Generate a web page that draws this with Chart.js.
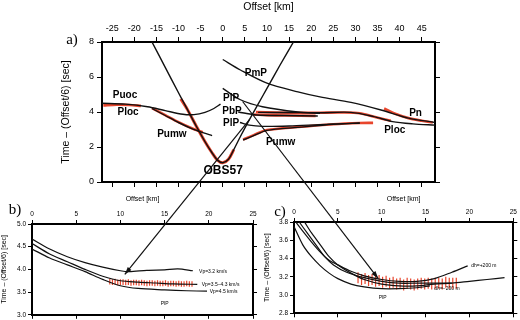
<!DOCTYPE html>
<html>
<head>
<meta charset="utf-8">
<script src="https://cdn.jsdelivr.net/npm/chart.js@4.4.0/dist/chart.umd.min.js"></script>
<style>
html, body { margin: 0; padding: 0; background: #fff; }
#wrap { position: relative; width: 520px; height: 320px; overflow: hidden; }
#wrap canvas { position: absolute; left: 0; top: 0; }
</style>
</head>
<body>
<div id="wrap">
  <canvas id="chartA" width="520" height="320"></canvas>
  <canvas id="chartB" width="520" height="320"></canvas>
  <canvas id="chartC" width="520" height="320"></canvas>
</div>
<script>
// --- panel a: reduced travel time branches (offset km, time - offset/6 s)
const aTicksX = [-25, -20, -15, -10, -5, 0, 5, 10, 15, 20, 25, 30, 35, 40, 45];
const aTicksY = [0, 2, 4, 6, 8];

const puocX = [-27.3, -22, -17, -13, -9, -6.5, -4, -2, -0.5];
const puocY = [4.5, 4.45, 4.3, 4.08, 3.87, 3.85, 3.98, 4.2, 4.45];
const pumwLeftX = [-16, -13, -10, -7, -4.5, -2.4];
const pumwLeftY = [4.2, 3.8, 3.4, 3.05, 2.82, 2.65];
const waterX = [-16, -13, -10, -8, -6, -4, -2.5, -1.2, 0, 1.3, 2.5, 4, 6, 8, 10, 13, 16];
const waterY = [8, 6.55, 5.1, 4.15, 3.2, 2.3, 1.7, 1.25, 1.1, 1.3, 1.85, 2.6, 3.55, 4.45, 5.35, 6.7, 8];
const pmpX = [0, 4, 10, 17, 22, 29, 36, 42, 48];
const pmpY = [7.0, 6.4, 5.65, 5.15, 4.86, 4.55, 4.1, 3.65, 3.4];
const plpUpX = [0, 4, 9, 17, 22];
const plpUpY = [5.35, 4.7, 4.3, 4.0, 3.92];
const pbpX = [3.5, 7.7, 14, 21.5];
const pbpY = [4.0, 3.83, 3.8, 3.77];
const plocRightX = [8, 15, 22, 29, 34, 38.4, 43, 48];
const plocRightY = [3.98, 3.97, 3.96, 3.98, 3.75, 3.45, 3.32, 3.25];
const plpLowX = [3.9, 6, 9, 15, 22, 31];
const plpLowY = [3.4, 3.25, 3.18, 3.2, 3.28, 3.37];
const pumwRightX = [4.6, 7, 10, 17, 25, 31];
const pumwRightY = [2.4, 2.65, 2.95, 3.12, 3.3, 3.37];

// picked arrivals (red)
const redPlocLeftX = [-27, -24, -21, -18.5];
const redPlocLeftY = [4.38, 4.42, 4.4, 4.35];
const redPumwLeftX = [-16, -13, -10, -7, -4.5];
const redPumwLeftY = [4.22, 3.82, 3.42, 3.07, 2.84];
const redWaterX = [-9.5, -8, -6, -4, -2.5, -1.2, 0, 1.3, 2.5];
const redWaterY = [4.75, 4.15, 3.2, 2.3, 1.7, 1.25, 1.1, 1.3, 1.85];
const redPbpX = [7, 10, 14, 21];
const redPbpY = [3.85, 3.82, 3.8, 3.78];
const redPlocRightX = [7.5, 12, 18, 22, 27, 31, 34, 38];
const redPlocRightY = [4.0, 3.97, 3.95, 3.96, 3.97, 3.93, 3.74, 3.5];
const redPumwRightX = [4.6, 7, 10, 17, 25, 31, 34];
const redPumwRightY = [2.42, 2.68, 2.97, 3.14, 3.3, 3.37, 3.38];
const redPnX = [36.5, 39, 42, 45, 47.5];
const redPnY = [4.2, 3.9, 3.65, 3.5, 3.4];

// --- panel b: PlP for three velocities
const bTicksX = [0, 5, 10, 15, 20, 25];
const bTicksY = [3.0, 3.5, 4.0, 4.5, 5.0];
const bVp32X = [0, 2, 4, 6, 8, 10, 11, 13, 15, 16.5, 18.2];
const bVp32Y = [4.67, 4.45, 4.28, 4.15, 4.05, 3.97, 3.95, 3.98, 3.99, 4.01, 3.97];
const bVp35X = [0, 2, 4, 6, 8, 10, 12, 14, 16, 18.7];
const bVp35Y = [4.57, 4.34, 4.17, 4.0, 3.85, 3.75, 3.72, 3.7, 3.68, 3.67];
const bVp45X = [0, 2, 4, 6, 8, 10, 12, 15, 17.5, 19.8];
const bVp45Y = [4.45, 4.25, 4.1, 3.95, 3.78, 3.64, 3.58, 3.55, 3.53, 3.52];
const bPickX = [8.8, 9.1, 9.4, 9.7, 10.0, 10.3, 10.6, 10.9, 11.2, 11.5, 11.8, 12.1, 12.4, 12.7, 13.0, 13.3,
                13.6, 13.9, 14.2, 14.5, 14.8, 15.1, 15.4, 15.7, 16.0, 16.3, 16.6, 16.9, 17.2, 17.5, 17.8, 18.1];
const bPickY = [3.73, 3.72, 3.73, 3.71, 3.72, 3.72, 3.71, 3.72, 3.7, 3.71, 3.71, 3.7, 3.71, 3.7, 3.69, 3.7,
                3.7, 3.69, 3.7, 3.69, 3.69, 3.7, 3.68, 3.69, 3.69, 3.68, 3.69, 3.68, 3.68, 3.69, 3.68, 3.68];

// --- panel c: PlP for depth changes
const cTicksX = [0, 5, 10, 15, 20, 25];
const cTicksY = [2.8, 3.0, 3.2, 3.4, 3.6, 3.8];
const cPlusX = [0.2, 1, 2, 3, 4, 5, 6.5, 8, 10, 12, 14, 16, 18, 19.8];
const cPlusY = [3.8, 3.7, 3.58, 3.47, 3.38, 3.33, 3.26, 3.21, 3.17, 3.15, 3.15, 3.18, 3.25, 3.32];
const cMidX = [0.6, 1.5, 2.5, 3.5, 4.5, 6, 8, 10, 12, 14, 16, 18];
const cMidY = [3.8, 3.68, 3.55, 3.42, 3.33, 3.25, 3.19, 3.15, 3.13, 3.13, 3.13, 3.13];
const cBaseX = [1.2, 2, 3, 4, 5, 6.5, 8, 10, 12, 14, 16, 18, 20, 22, 24];
const cBaseY = [3.8, 3.68, 3.55, 3.42, 3.33, 3.24, 3.17, 3.12, 3.1, 3.1, 3.12, 3.13, 3.15, 3.17, 3.19];
const cMinusX = [0, 1, 2, 3, 4, 5, 6.5, 8, 10, 12, 14, 15.5];
const cMinusY = [3.75, 3.55, 3.42, 3.32, 3.24, 3.18, 3.12, 3.09, 3.07, 3.07, 3.08, 3.1];
const cPickX = [7.3, 7.7, 8.1, 8.5, 8.9, 9.3, 9.7, 10.1, 10.5, 10.9, 11.3, 11.7, 12.1, 12.5, 12.9, 13.3, 13.7,
                14.1, 14.5, 14.9, 15.3, 15.7, 16.1, 16.5, 16.9, 17.3, 17.7, 18.1, 18.5];
const cPickY = [3.19, 3.17, 3.18, 3.16, 3.17, 3.15, 3.16, 3.14, 3.15, 3.13, 3.14, 3.12, 3.13, 3.11, 3.13, 3.12, 3.11,
                3.12, 3.13, 3.12, 3.13, 3.12, 3.13, 3.13, 3.12, 3.14, 3.13, 3.13, 3.13];

// zoom links: [a offset, a time, target offset, target time]
const linkToB = [6, 3.55, 10.5, 3.89];
const linkToC = [4.5, 4.6, 9.6, 3.18];

const RED = '#e8452c';
const SANS = '"Liberation Sans", Arial, sans-serif';
const YTITLE = 'Time \u2013 (Offset/6) [sec]';

Chart.defaults.font.family = SANS;
Chart.defaults.color = '#000';

let chartA, chartB, chartC;

function pts(xs, ys) {
    return xs.map((x, i) => ({ x: x, y: ys[i] }));
}

function curve(xs, ys, color, width) {
    return { data: pts(xs, ys), borderColor: color, borderWidth: width, pointRadius: 0, tension: 0.3, fill: false };
}

function picks(xs, ys, size) {
    return {
        data: pts(xs, ys), showLine: false, pointStyle: 'line', pointRotation: 90,
        pointRadius: size, pointBorderColor: RED, pointBorderWidth: 1.2, borderColor: RED
    };
}

// four framed axes, sizes forced so the plot area lands where it should
function frame(o) {
    const setTicks = vals => s => { s.ticks = vals.map(v => ({ value: v })); };
    const noPad = s => { s.paddingLeft = 0; s.paddingRight = 0; s.paddingTop = 0; s.paddingBottom = 0; };
    const grid = { drawOnChartArea: false, color: '#000', tickLength: o.tick, lineWidth: 1 };
    const border = { display: true, color: '#000', width: o.bw };
    const tickFont = { size: o.tickSize, family: SANS };
    return {
        x: {
            type: 'linear', position: 'top', min: o.xMin, max: o.xMax, grid: grid, border: border,
            afterBuildTicks: setTicks(o.xTicks),
            afterFit: s => { noPad(s); s.height = o.top; },
            ticks: { font: tickFont, padding: o.tickPad, maxRotation: 0, autoSkip: false, color: '#000' },
            title: { display: true, text: 'Offset [km]', color: '#000', font: { size: o.titleSize }, padding: { top: 1, bottom: 0 } }
        },
        xb: {
            axis: 'x', type: 'linear', position: 'bottom', min: o.xMin, max: o.xMax, grid: grid, border: border,
            afterBuildTicks: setTicks(o.xTicks),
            afterFit: s => { noPad(s); s.height = o.tick; },
            ticks: { display: false }
        },
        y: {
            type: 'linear', position: 'left', min: o.yMin, max: o.yMax, grid: grid, border: border,
            afterBuildTicks: setTicks(o.yTicks),
            afterFit: s => { noPad(s); s.width = o.left; },
            ticks: { font: tickFont, padding: o.tickPad, autoSkip: false, color: '#000', callback: o.fmt },
            title: { display: true, text: YTITLE, color: '#000', font: { size: o.titleSize }, padding: 0 }
        },
        yr: {
            axis: 'y', type: 'linear', position: 'right', min: o.yMin, max: o.yMax, grid: grid, border: border,
            afterBuildTicks: setTicks(o.yTicks),
            afterFit: s => { noPad(s); s.width = o.tick; },
            ticks: { display: false }
        }
    };
}

function drawNotes(chart, notes, font) {
    const ctx = chart.ctx;
    const sx = chart.scales.x, sy = chart.scales.y;
    ctx.save();
    ctx.font = font;
    ctx.fillStyle = '#000';
    ctx.textBaseline = 'middle';
    notes.forEach(n => {
        ctx.textAlign = n.align || 'center';
        ctx.fillText(n.text, sx.getPixelForValue(n.x), sy.getPixelForValue(n.y));
    });
    ctx.restore();
}

function panelLetter(chart, text, dx, dy) {
    const ctx = chart.ctx;
    ctx.save();
    ctx.font = '15px "Liberation Serif", "Times New Roman", serif';
    ctx.fillStyle = '#000';
    ctx.textAlign = 'center';
    ctx.textBaseline = 'middle';
    ctx.fillText(text, chart.chartArea.left + dx, chart.chartArea.top + dy);
    ctx.restore();
}

function arrow(ctx, x1, y1, x2, y2) {
    ctx.beginPath();
    ctx.moveTo(x1, y1);
    ctx.lineTo(x2, y2);
    ctx.stroke();
    const a = Math.atan2(y2 - y1, x2 - x1), L = 8;
    ctx.beginPath();
    ctx.moveTo(x2, y2);
    ctx.lineTo(x2 - L * Math.cos(a - 0.3), y2 - L * Math.sin(a - 0.3));
    ctx.lineTo(x2 - L * Math.cos(a + 0.3), y2 - L * Math.sin(a + 0.3));
    ctx.closePath();
    ctx.fill();
}

const notesA = [
    { text: 'Puoc', x: -22.1, y: 4.97 },
    { text: 'Ploc', x: -21.4, y: 4.0 },
    { text: 'Pumw', x: -11.5, y: 2.74 },
    { text: 'PmP', x: 7.5, y: 6.23 },
    { text: 'PlP', x: 1.9, y: 4.8 },
    { text: 'PbP', x: 2.1, y: 4.06 },
    { text: 'PlP', x: 1.9, y: 3.37 },
    { text: 'Pumw', x: 13.1, y: 2.29 },
    { text: 'Pn', x: 43.6, y: 3.94 },
    { text: 'Ploc', x: 38.9, y: 2.97 }
];
const notesB = [
    { text: 'Vp=3.2 km/s', x: 18.9, y: 3.96, align: 'left' },
    { text: 'Vp=3.5\u20134.3 km/s', x: 19.2, y: 3.66, align: 'left' },
    { text: 'Vp=4.5 km/s', x: 20.1, y: 3.5, align: 'left' },
    { text: 'PlP', x: 15, y: 3.24 }
];
const notesC = [
    { text: 'dh=+200 m', x: 20.2, y: 3.32, align: 'left' },
    { text: 'dh=\u2212200 m', x: 16, y: 3.07, align: 'left' },
    { text: 'PlP', x: 10.1, y: 2.97 }
];

const baseOptions = {
    responsive: false,
    animation: false,
    devicePixelRatio: 1,
    events: [],
    plugins: { legend: { display: false }, tooltip: { enabled: false } }
};

// Panel a
chartA = new Chart(document.getElementById('chartA').getContext('2d'), {
    type: 'line',
    data: {
        datasets: [
            curve(waterX, waterY, '#111', 1.4),
            curve(puocX, puocY, '#111', 1.4),
            curve(pumwLeftX, pumwLeftY, '#111', 1.4),
            curve(pmpX, pmpY, '#111', 1.3),
            curve(plpUpX, plpUpY, '#111', 1.3),
            curve(pbpX, pbpY, '#111', 1.4),
            curve(plocRightX, plocRightY, '#111', 1.4),
            curve(plpLowX, plpLowY, '#111', 1.3),
            curve(pumwRightX, pumwRightY, '#111', 1.4),
            curve(redPlocLeftX, redPlocLeftY, RED, 2.6),
            curve(redPumwLeftX, redPumwLeftY, RED, 2.6),
            curve(redWaterX, redWaterY, RED, 3),
            curve(redPbpX, redPbpY, RED, 2.6),
            curve(redPlocRightX, redPlocRightY, RED, 2.6),
            curve(redPumwRightX, redPumwRightY, RED, 2.6),
            curve(redPnX, redPnY, RED, 2.6)
        ]
    },
    options: Object.assign({}, baseOptions, {
        layout: { padding: { left: 60, top: 0, right: 80, bottom: 133 } },
        scales: frame({
            xMin: -27.3, xMax: 48, yMin: 0, yMax: 8, xTicks: aTicksX, yTicks: aTicksY,
            top: 42, left: 42, tick: 5, tickSize: 9, titleSize: 10.5, tickPad: 3, bw: 2,
            fmt: v => String(v)
        })
    }),
    plugins: [{
        id: 'notesA',
        afterDraw(chart) {
            drawNotes(chart, notesA, 'bold 10px ' + SANS);
            drawNotes(chart, [{ text: 'OBS57', x: 0.1, y: 0.62 }], 'bold 12px ' + SANS);
            panelLetter(chart, 'a)', -30, -2);
        }
    }]
});

// Panel b
chartB = new Chart(document.getElementById('chartB').getContext('2d'), {
    type: 'line',
    data: {
        datasets: [
            curve(bVp32X, bVp32Y, '#111', 1.2),
            curve(bVp35X, bVp35Y, '#111', 1.2),
            curve(bVp45X, bVp45Y, '#111', 1.2),
            picks(bPickX, bPickY, 2.8)
        ]
    },
    options: Object.assign({}, baseOptions, {
        layout: { padding: { left: 0, top: 194, right: 263, bottom: 0 } },
        scales: frame({
            xMin: 0, xMax: 25, yMin: 3, yMax: 5, xTicks: bTicksX, yTicks: bTicksY,
            top: 30, left: 32, tick: 4, tickSize: 6.5, titleSize: 7, tickPad: 2, bw: 2,
            fmt: v => v.toFixed(1)
        })
    }),
    plugins: [{
        id: 'notesB',
        afterDraw(chart) {
            drawNotes(chart, notesB, '5px ' + SANS);
            panelLetter(chart, 'b)', -17, -14);
        }
    }]
});

// Panel c, plus the zoom links between panels
chartC = new Chart(document.getElementById('chartC').getContext('2d'), {
    type: 'line',
    data: {
        datasets: [
            curve(cPlusX, cPlusY, '#111', 1.2),
            curve(cMidX, cMidY, '#111', 1.2),
            curve(cBaseX, cBaseY, '#111', 1.2),
            curve(cMinusX, cMinusY, '#111', 1.2),
            picks(cPickX, cPickY, 5.5)
        ]
    },
    options: Object.assign({}, baseOptions, {
        layout: { padding: { left: 263, top: 194, right: 2, bottom: 0 } },
        scales: frame({
            xMin: 0, xMax: 25, yMin: 2.8, yMax: 3.8, xTicks: cTicksX, yTicks: cTicksY,
            top: 28, left: 31, tick: 4, tickSize: 6.5, titleSize: 7, tickPad: 2, bw: 2,
            fmt: v => v.toFixed(1)
        })
    }),
    plugins: [{
        id: 'notesC',
        afterDraw(chart) {
            drawNotes(chart, notesC, '5px ' + SANS);
            panelLetter(chart, 'c)', -14, -10);
            const ctx = chart.ctx;
            ctx.save();
            ctx.strokeStyle = '#111';
            ctx.fillStyle = '#111';
            ctx.lineWidth = 1.2;
            arrow(ctx,
                chartA.scales.x.getPixelForValue(linkToB[0]), chartA.scales.y.getPixelForValue(linkToB[1]),
                chartB.scales.x.getPixelForValue(linkToB[2]), chartB.scales.y.getPixelForValue(linkToB[3]));
            arrow(ctx,
                chartA.scales.x.getPixelForValue(linkToC[0]), chartA.scales.y.getPixelForValue(linkToC[1]),
                chart.scales.x.getPixelForValue(linkToC[2]), chart.scales.y.getPixelForValue(linkToC[3]));
            ctx.restore();
        }
    }]
});
</script>
</body>
</html>
